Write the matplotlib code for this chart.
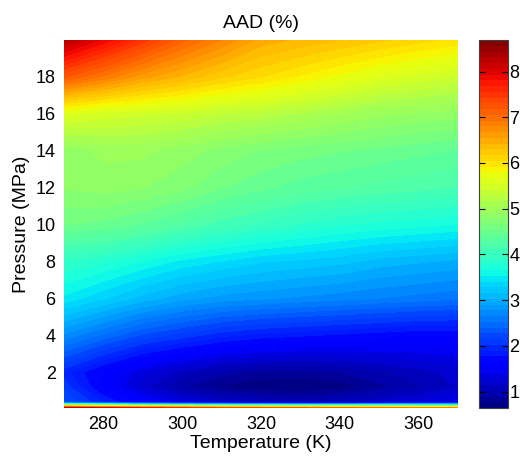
import matplotlib
matplotlib.use('Agg')
import matplotlib.pyplot as plt
import numpy as np

plt.rcParams['font.family'] = ['Liberation Sans', 'DejaVu Sans']

# grid
temperature = [270, 280, 290, 300, 310, 320, 330, 340, 350, 360, 370]
pressure = [0.05, 0.35, 1.2, 2, 4, 6, 8, 10, 12, 14, 16, 18, 20]

aad_p005 = [8.3, 8.0, 7.8, 7.6, 7.4, 7.3, 7.2, 7.1, 7.0, 6.9, 6.8]
aad_p035 = [2.3, 1.9, 1.6, 1.35, 1.2, 1.1, 1.05, 1.1, 1.2, 1.3, 1.4]
aad_p1 = [2.1, 1.6, 1.2, 0.9, 0.75, 0.66, 0.64, 0.7, 0.85, 1.0, 1.15]
aad_p2 = [1.95, 1.6, 1.3, 1.1, 0.95, 0.85, 0.85, 0.9, 1.0, 1.1, 1.2]
aad_p4 = [2.75, 2.5, 2.25, 2.1, 1.95, 1.85, 1.8, 1.75, 1.7, 1.65, 1.65]
aad_p6 = [3.5, 3.3, 3.1, 2.95, 2.85, 2.8, 2.75, 2.7, 2.65, 2.6, 2.55]
aad_p8 = [3.9, 3.8, 3.65, 3.5, 3.4, 3.3, 3.25, 3.2, 3.1, 3.05, 3.0]
aad_p10 = [4.55, 4.5, 4.4, 4.25, 4.1, 4.0, 3.9, 3.8, 3.75, 3.7, 3.65]
aad_p12 = [4.8, 4.85, 4.8, 4.7, 4.55, 4.45, 4.35, 4.3, 4.25, 4.2, 4.15]
aad_p14 = [4.85, 4.95, 4.95, 4.85, 4.75, 4.65, 4.6, 4.55, 4.5, 4.45, 4.4]
aad_p16 = [5.6, 5.5, 5.45, 5.4, 5.3, 5.25, 5.15, 5.05, 4.95, 4.9, 4.85]
aad_p18 = [7.2, 6.9, 6.6, 6.4, 6.2, 6.05, 5.9, 5.75, 5.6, 5.5, 5.4]
aad_p20 = [8.3, 7.9, 7.5, 7.1, 6.8, 6.5, 6.4, 6.3, 6.2, 6.1, 6.0]

aad = np.array([aad_p005, aad_p035, aad_p1, aad_p2, aad_p4, aad_p6, aad_p8,
                aad_p10, aad_p12, aad_p14, aad_p16, aad_p18, aad_p20])

vmin, vmax = 0.64, 8.69

fig = plt.figure(figsize=(5.23, 4.59), dpi=100)
ax = fig.add_axes([64 / 523, 51 / 459, 394 / 523, 368 / 459])
cax = fig.add_axes([479 / 523, 51 / 459, 29 / 523, 368 / 459])

levels = np.linspace(vmin, vmax, 65)
cs = ax.contourf(temperature, pressure, aad, levels=levels, cmap='jet',
                 vmin=vmin, vmax=vmax)

ax.set_xlim(270, 370)
ax.set_ylim(0.05, 20)
ax.set_xticks([280, 300, 320, 340, 360])
ax.set_yticks([2, 4, 6, 8, 10, 12, 14, 16, 18])
ax.tick_params(length=0, labelsize=13, pad=6)
for s in ax.spines.values():
    s.set_visible(False)
ax.set_xlabel('Temperature (K)', fontsize=14, labelpad=1)
ax.set_ylabel('Pressure (MPa)', fontsize=14, labelpad=4)
ax.set_title('AAD (%)', fontsize=14, pad=9)

cb = fig.colorbar(cs, cax=cax)
cb.set_ticks([1, 2, 3, 4, 5, 6, 7, 8])
cax.tick_params(labelsize=13, direction='in', length=4, left=True, right=True, pad=1)
cb.outline.set_edgecolor('#404040')

fig.savefig('out.png', dpi=100)
